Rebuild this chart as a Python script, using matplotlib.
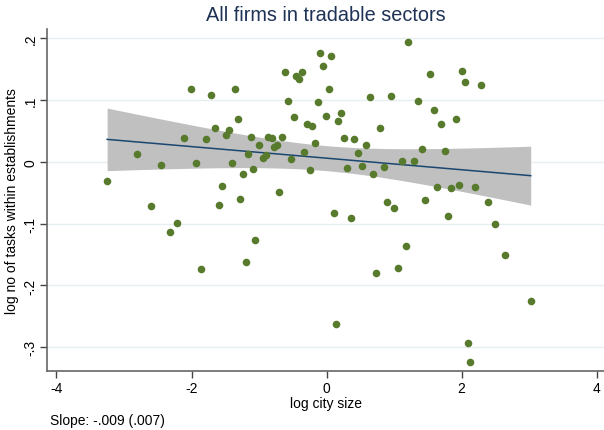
import numpy as np
import matplotlib
matplotlib.use("Agg")
import matplotlib.pyplot as plt

plt.rcParams['font.family'] = ['Liberation Sans', 'DejaVu Sans']

# log city size
city_size = [
    -3.249, -2.801, -2.446, -2.010, -1.714, -1.355, -1.315, -1.655, -1.448, -1.492,
    -2.105, -1.784, -1.113, -1.158, -1.932, -1.403, -1.088, -1.236, -1.547, -1.276,
    -2.598, -1.596, -2.209, -2.321, -1.058, -1.196, -1.858, 1.211, -0.092, 0.067,
    -0.047, -0.610, -0.363, -0.452, -0.403, 0.033, 0.640, 0.955, -0.566, -0.130,
    -0.486, -0.007, 0.215, 0.175, -0.293, -0.210, 0.788, -0.862, -0.811, -0.654,
    0.259, 0.412, -0.995, -0.166, 0.585, -0.728, -0.773, -0.900, -0.944, -0.329,
    0.466, -0.526, -0.249, 0.308, 0.530, 0.847, 0.688, 1.113, -0.699, 0.896,
    1.528, 2.006, 2.055, 2.292, 1.359, 1.587, 1.913, 1.691, 1.418, 1.750,
    1.300, 1.640, 1.848, 1.962, 2.198, 1.463, 0.107, 0.358, 1.004, 1.172,
    0.733, 1.054, 0.136, 2.391, 1.799, 2.495, 2.647, 3.023, 2.090, 2.129,
]
# log no of tasks within establishments
n_tasks = [
    -0.0311, 0.0121, -0.0047, 0.1179, 0.1082, 0.1179, 0.0688, 0.0552, 0.0520, 0.0439,
    0.0390, 0.0364, 0.0402, 0.0131, -0.0015, -0.0015, -0.0112, -0.0198, -0.0392, -0.0603,
    -0.0711, -0.0695, -0.0986, -0.1137, -0.1271, -0.1623, -0.1736, 0.1945, 0.1757, 0.1709,
    0.1547, 0.1454, 0.1450, 0.1390, 0.1341, 0.1184, 0.1045, 0.1061, 0.0990, 0.0973,
    0.0721, 0.0747, 0.0795, 0.0661, 0.0612, 0.0580, 0.0547, 0.0397, 0.0390, 0.0397,
    0.0385, 0.0374, 0.0277, 0.0300, 0.0277, 0.0272, 0.0235, 0.0110, 0.0057, 0.0164,
    0.0138, 0.0040, -0.0138, -0.0105, -0.0073, -0.0084, -0.0193, 0.0008, -0.0484, -0.0651,
    0.1427, 0.1466, 0.1297, 0.1244, 0.0985, 0.0834, 0.0698, 0.0612, 0.0207, 0.0170,
    0.0008, -0.0403, -0.0429, -0.0381, -0.0403, -0.0611, -0.0834, -0.0905, -0.0743, -0.1359,
    -0.1801, -0.1725, -0.2622, -0.0656, -0.0878, -0.1007, -0.1514, -0.2259, -0.2930, -0.3247,
]

x_ticks = [-4, -2, 0, 2, 4]
y_ticks = [-0.3, -0.2, -0.1, 0, 0.1, 0.2]
y_ticklabels = ["-.3", "-.2", "-.1", "0", ".1", ".2"]

x = np.array(city_size)
y = np.array(n_tasks)

# OLS fit + 95% CI of the mean (like lfitci)
n = len(x)
b, a = np.polyfit(x, y, 1)
resid = y - (a + b * x)
s2 = np.sum(resid ** 2) / (n - 2)
sxx = np.sum((x - x.mean()) ** 2)
se_b = np.sqrt(s2 / sxx)
t_crit = 1.9845
xs = np.linspace(x.min(), x.max(), 100)
fit = a + b * xs
se_fit = np.sqrt(s2 * (1 / n + (xs - x.mean()) ** 2 / sxx))


def stata_fmt(v):
    # stata style: no leading zero
    s = "%.3f" % v
    return s.replace("0.", ".", 1)


fig = plt.figure(figsize=(6.04, 4.31), dpi=100)
ax = fig.add_axes([0.078, 0.136, 0.922, 0.794])

ax.fill_between(xs, fit - t_crit * se_fit, fit + t_crit * se_fit,
                color='#c0c0c0', lw=0, zorder=1)
ax.plot(xs, fit, color='#1a476f', lw=1.1, zorder=2)
ax.scatter(x, y, s=30, color='#587a2c', lw=0, zorder=3)

ax.set_xlim(-4.138, 4.108)
ax.set_ylim(-0.3393, 0.215)
ax.set_xticks(x_ticks)
ax.set_xticklabels([str(v) for v in x_ticks])
ax.set_yticks(y_ticks)
ax.set_yticklabels(y_ticklabels, rotation=90, va='center')
ax.grid(axis='y', color='#e6eef0', lw=1)
ax.set_axisbelow(True)

for side in ['top', 'right']:
    ax.spines[side].set_visible(False)
for side in ['left', 'bottom']:
    ax.spines[side].set_color('#666666')
    ax.spines[side].set_linewidth(1.2)
ax.tick_params(length=5, width=1, color='#444444', labelsize=10, pad=2)

ax.set_xlabel("log city size", fontsize=10, labelpad=1)
ax.set_ylabel("log no of tasks within establishments", fontsize=10, labelpad=3)
fig.text(0.54, 0.985, "All firms in tradable sectors", ha='center', va='top',
         fontsize=14.3, color='#1e3255')
fig.text(0.083, 0.006, "Slope: %s (%s)" % (stata_fmt(b), stata_fmt(se_b)),
         fontsize=10, ha='left', va='bottom')

fig.savefig("out.png", dpi=100)
